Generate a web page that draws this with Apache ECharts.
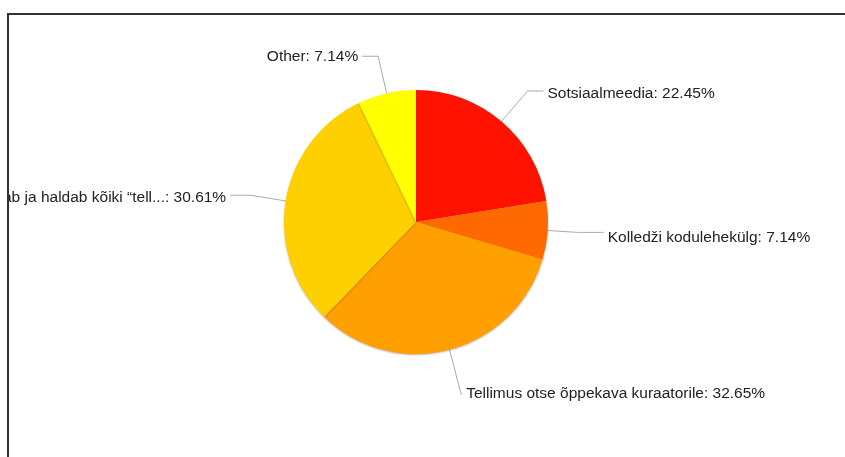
<!DOCTYPE html>
<html>
<head>
<meta charset="utf-8">
<script src="https://cdn.jsdelivr.net/npm/echarts@6/dist/echarts.min.js"></script>
<style>
  html, body { margin: 0; padding: 0; background: #fff; }
  #frame {
    position: absolute; left: 7px; top: 13px; width: 845px; height: 460px;
    border-top: 2px solid #333; border-left: 2px solid #333;
  }
  #main { position: absolute; left: 0; top: 0; width: 836px; height: 444px; }
</style>
</head>
<body>
<div id="frame"><div id="main"></div></div>
<script>
// andmed
const categories = [
  'Sotsiaalmeedia',
  'Kolledži kodulehekülg',
  'Tellimus otse õppekava kuraatorile',
  'Õppekava kuraator koostab ja haldab kõiki “tell...',
  'Other'
];
const counts = [22, 7, 32, 30, 7];
const colors = ['#ff1300', '#ff6a00', '#ffa000', '#ffd000', '#ffff00'];

// labeli joonte pikkused ja teksti nihe alla (stiil)
const lineLen = [40, 30, 46, 36, 38];
const lineLen2 = [16, 26, 1, 20, 16];
const labelDy = [3, 5, 0, 3, 0];

const total = counts.reduce(function (a, b) { return a + b; }, 0);

const chart = echarts.init(document.getElementById('main'));

const option = {
  animation: false,
  series: [{
    type: 'pie',
    center: [407, 207],
    radius: 132,
    startAngle: 90,
    clockwise: true,
    avoidLabelOverlap: false,
    itemStyle: {
      borderWidth: 0,
      shadowColor: 'rgba(120,70,0,0.45)',
      shadowBlur: 2,
      shadowOffsetY: 1
    },
    label: {
      show: true,
      formatter: function (p) {
        return p.name + ': ' + (p.value / total * 100).toFixed(2) + '%';
      },
      fontFamily: 'Liberation Sans, Arial, sans-serif',
      fontSize: 15.5,
      color: '#222222',
      distanceToLabelLine: 4
    },
    labelLayout: function (params) {
      return { dy: labelDy[params.dataIndex] };
    },
    labelLine: {
      show: true,
      lineStyle: { color: '#aaaaaa', width: 1 }
    },
    data: categories.map(function (name, i) {
      return {
        name: name,
        value: counts[i],
        itemStyle: { color: colors[i] },
        labelLine: { length: lineLen[i], length2: lineLen2[i] }
      };
    })
  }]
};

chart.setOption(option);
</script>
</body>
</html>
